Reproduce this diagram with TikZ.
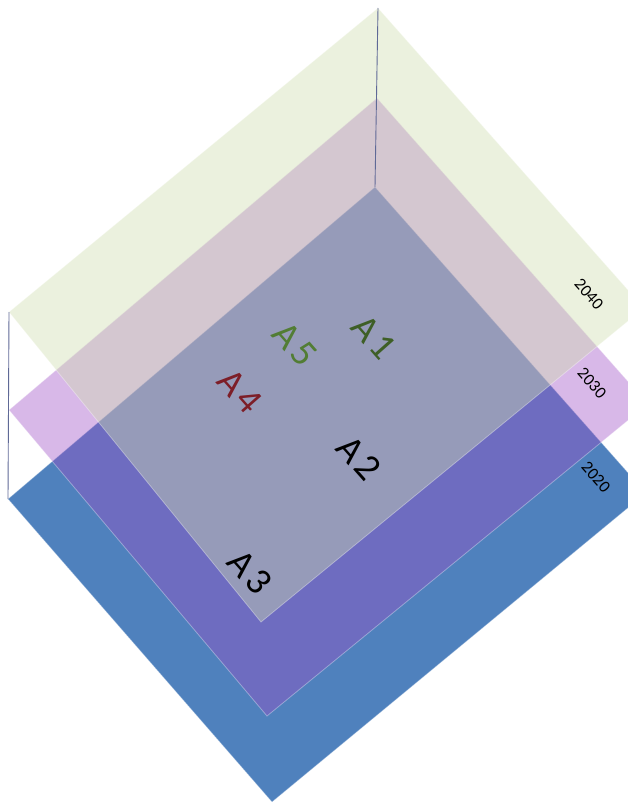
\documentclass[tikz,border=0pt]{standalone}
\usepackage{fontspec}
\setmainfont{Carlito}
\definecolor{planeblue}{RGB}{79,129,189}
\definecolor{planepurple}{RGB}{157,77,197}
\definecolor{planegreen}{RGB}{207,221,176}
\definecolor{axisline}{RGB}{95,105,150}
\definecolor{lblgreenA}{RGB}{62,95,38}
\definecolor{lblgreenB}{RGB}{82,125,52}
\definecolor{lblred}{RGB}{125,30,40}
\tikzset{
  plane/.style={draw=white, draw opacity=0.35, line width=0.8pt},
  axis/.style={draw=axisline, line width=0.9pt},
  yearlbl/.style={rotate=-48.5, font=\fontsize{17}{17}\selectfont, text=black, inner sep=0pt},
  arealbl/.style={rotate=-48.5, font=\fontsize{38}{38}\selectfont, inner sep=0pt}
}
\begin{document}
\begin{tikzpicture}[x=1pt,y=-1pt]
\useasboundingbox (0,0) rectangle (628,802);
\clip (0,0) rectangle (628,802);
% plane corners
\coordinate (gT) at (378,8);
\coordinate (gL) at (9,312);
\coordinate (gB) at (261,622);
\coordinate (gR) at (644,308);
\coordinate (pT) at (377,98);
\coordinate (pL) at (9,410);
\coordinate (pB) at (267,716);
\coordinate (pR) at (648,404);
\coordinate (bT) at (375,187);
\coordinate (bL) at (8,499);
\coordinate (bB) at (272,802);
\coordinate (bR) at (646,493);
% blue plane 2020
\path[plane, fill=planeblue] (bT) -- (bR) -- (bB) -- (bL) -- cycle;
% purple plane 2030
\path[plane, fill=planepurple, fill opacity=0.4] (pT) -- (pR) -- (pB) -- (pL) -- cycle;
% green plane 2040
\path[plane, fill=planegreen, fill opacity=0.42] (gT) -- (gR) -- (gB) -- (gL) -- cycle;
% vertical connectors
\draw[axis] (gT) -- (bT);
\draw[axis] (gL) -- (bL);
% year labels
\node[yearlbl] (y2040) at (589,294) {2040};
\node[yearlbl] (y2030) at (592,383) {2030};
\node[yearlbl] (y2020) at (596,477) {2020};
% area labels
\node[arealbl, text=lblgreenA] (a1) at (374,337) {A\kern4pt 1};
\node[arealbl, text=lblgreenB] (a5) at (295,344) {A\kern4pt 5};
\node[arealbl, text=lblred] (a4) at (240,391) {A\kern4pt 4};
\node[arealbl, text=black] (a2) at (359,458) {A\kern4pt 2};
\node[arealbl, text=black] (a3) at (250,572) {A\kern4pt 3};
\end{tikzpicture}
\end{document}
